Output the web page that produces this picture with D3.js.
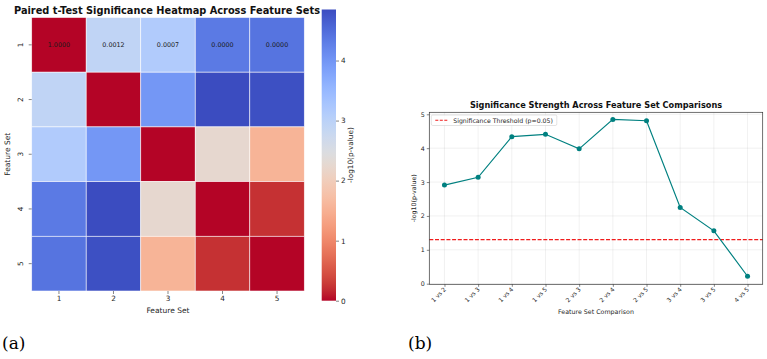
<!DOCTYPE html>
<html>
<head>
<meta charset="utf-8">
<script src="https://cdn.jsdelivr.net/npm/d3@7"></script>
<style>
  html, body { margin: 0; padding: 0; background: #ffffff; }
  svg { display: block; }
  text { font-family: "DejaVu Sans", sans-serif; fill: #262626; }
</style>
</head>
<body>
<svg id="chart" width="767" height="359"></svg>
<script>
// ---------------- DATA ----------------
const featureSets = ["1", "2", "3", "4", "5"];
const comparisons = ["1 vs 2", "1 vs 3", "1 vs 4", "1 vs 5", "2 vs 3", "2 vs 4", "2 vs 5", "3 vs 4", "3 vs 5", "4 vs 5"];
const negLogP = [2.91, 3.14, 4.34, 4.41, 3.98, 4.85, 4.81, 2.25, 1.56, 0.22];
const pThreshold = 0.05;
const annotatedRows = ["1"];
const colorbarTicks = [0, 1, 2, 3, 4];
const lineYTicks = [0, 1, 2, 3, 4, 5];

// coolwarm colormap stops (matplotlib), used reversed
const coolwarmStops = [
  [59,76,192],[68,90,204],[77,104,215],[87,117,225],[98,130,234],[108,142,241],[119,154,247],[130,165,251],
  [141,176,254],[152,185,255],[163,194,255],[174,201,253],[184,208,249],[194,213,244],[204,217,238],[213,219,230],
  [221,221,221],[229,216,209],[236,211,197],[241,204,184],[245,196,173],[247,187,160],[247,177,148],[247,166,135],
  [244,154,123],[241,141,111],[236,127,99],[229,112,88],[222,96,77],[213,80,66],[203,62,56],[192,40,47],[180,4,38]
].map(c => d3.rgb(c[0], c[1], c[2]).formatHex());
const coolwarm = d3.interpolateRgbBasis(coolwarmStops);

// Build symmetric matrix from pair comparisons
const cells = [];
featureSets.forEach((r, i) => {
  featureSets.forEach((c, j) => {
    let v = 0;
    if (i !== j) {
      const a = Math.min(i, j), b = Math.max(i, j);
      const label = featureSets[a] + " vs " + featureSets[b];
      v = negLogP[comparisons.indexOf(label)];
    }
    cells.push({ row: r, col: c, value: v, p: Math.pow(10, -v) });
  });
});

const svg = d3.select("#chart");

// ---------------- (a) HEATMAP ----------------
const hm = { left: 31.7, right: 304.3, top: 17.5, bottom: 291 };
const vmax = d3.max(negLogP);
const colorFor = v => coolwarm(1 - v / vmax);

const hx = d3.scaleBand().domain(featureSets).range([hm.left, hm.right]);
const hy = d3.scaleBand().domain(featureSets).range([hm.top, hm.bottom]);

const gHm = svg.append("g");
gHm.selectAll("rect.cell").data(cells).enter().append("rect")
  .attr("class", "cell")
  .attr("x", d => hx(d.col))
  .attr("y", d => hy(d.row))
  .attr("width", hx.bandwidth())
  .attr("height", hy.bandwidth())
  .attr("fill", d => colorFor(d.value))
  .attr("stroke", "#ffffff")
  .attr("stroke-opacity", 0.8)
  .attr("stroke-width", 0.7);

gHm.selectAll("text.annot").data(cells.filter(d => annotatedRows.includes(d.row))).enter().append("text")
  .attr("class", "annot")
  .attr("x", d => hx(d.col) + hx.bandwidth() / 2)
  .attr("y", d => hy(d.row) + hy.bandwidth() / 2)
  .attr("text-anchor", "middle")
  .attr("dominant-baseline", "central")
  .style("font-size", "6.4px")
  .style("fill", "#1a1a1a")
  .text(d => d.p.toFixed(4));

// x axis
const hxAxis = gHm.append("g").attr("transform", `translate(0,${hm.bottom})`)
  .call(d3.axisBottom(hx).tickSize(3).tickPadding(2));
hxAxis.select(".domain").remove();
hxAxis.selectAll("line").attr("stroke", "#333").attr("stroke-width", 0.6);
hxAxis.selectAll("text").style("font-size", "7.3px").style("fill", "#262626");

// y axis (rotated labels)
const hyAxis = gHm.append("g").attr("transform", `translate(${hm.left},0)`)
  .call(d3.axisLeft(hy).tickSize(3).tickPadding(2));
hyAxis.select(".domain").remove();
hyAxis.selectAll("line").attr("stroke", "#333").attr("stroke-width", 0.6);
hyAxis.selectAll("text").style("font-size", "7.3px").style("fill", "#262626")
  .attr("x", 0).attr("dy", 0).attr("text-anchor", "middle")
  .attr("transform", "translate(-9,0) rotate(-90)");

gHm.append("text")
  .attr("x", (hm.left + hm.right) / 2).attr("y", 313)
  .attr("text-anchor", "middle").style("font-size", "7.5px")
  .text("Feature Set");
gHm.append("text")
  .attr("transform", `translate(10,${(hm.top + hm.bottom) / 2}) rotate(-90)`)
  .attr("text-anchor", "middle").style("font-size", "7.5px")
  .text("Feature Set");

gHm.append("text")
  .attr("x", 167).attr("y", 13.5)
  .attr("text-anchor", "middle")
  .style("font-size", "9.8px").style("font-weight", "bold").style("fill", "#111")
  .text("Paired t-Test Significance Heatmap Across Feature Sets");

// colorbar
const cb = { left: 321.7, width: 14.3, top: 9.5, bottom: 300.7 };
const cy = d3.scaleLinear().domain([0, vmax]).range([cb.bottom, cb.top]);
const defs = svg.append("defs");
const grad = defs.append("linearGradient").attr("id", "cbgrad")
  .attr("x1", 0).attr("y1", 1).attr("x2", 0).attr("y2", 0);
d3.range(0, 1.0001, 0.02).forEach(t => {
  grad.append("stop").attr("offset", t).attr("stop-color", colorFor(t * vmax));
});
svg.append("rect").attr("x", cb.left).attr("y", cb.top)
  .attr("width", cb.width).attr("height", cb.bottom - cb.top)
  .attr("fill", "url(#cbgrad)");
const cbAxis = svg.append("g").attr("transform", `translate(${cb.left + cb.width},0)`)
  .call(d3.axisRight(cy).tickValues(colorbarTicks).tickFormat(d3.format("d")).tickSize(3).tickPadding(2));
cbAxis.select(".domain").remove();
cbAxis.selectAll("line").attr("stroke", "#333").attr("stroke-width", 0.6);
cbAxis.selectAll("text").style("font-size", "7.3px").style("fill", "#262626");
svg.append("text")
  .attr("transform", `translate(353,${(cb.top + cb.bottom) / 2}) rotate(-90)`)
  .attr("text-anchor", "middle").style("font-size", "7.3px")
  .text("-log10(p-value)");

// ---------------- (b) LINE CHART ----------------
const lc = { left: 429.3, right: 762.7, top: 112.3, bottom: 284.3 };
const lx = d3.scaleLinear().domain([-0.45, comparisons.length - 1 + 0.45]).range([lc.left, lc.right]);
const ly = d3.scaleLinear().domain([-0.018, 5.059]).range([lc.bottom, lc.top]);
const gL = svg.append("g");

// grid
gL.selectAll("line.vgrid").data(comparisons).enter().append("line")
  .attr("x1", (d, i) => lx(i)).attr("x2", (d, i) => lx(i))
  .attr("y1", lc.top).attr("y2", lc.bottom)
  .attr("stroke", "#b0b0b0").attr("stroke-opacity", 0.3).attr("stroke-width", 0.6);
gL.selectAll("line.hgrid").data(lineYTicks).enter().append("line")
  .attr("x1", lc.left).attr("x2", lc.right)
  .attr("y1", d => ly(d)).attr("y2", d => ly(d))
  .attr("stroke", "#b0b0b0").attr("stroke-opacity", 0.3).attr("stroke-width", 0.6);

// threshold
const thr = -Math.log10(pThreshold);
gL.append("line")
  .attr("x1", lc.left).attr("x2", lc.right)
  .attr("y1", ly(thr)).attr("y2", ly(thr))
  .attr("stroke", "#f01c1c").attr("stroke-width", 1.1)
  .attr("stroke-dasharray", "4,1.7");

// line
const pts = negLogP.map((v, i) => ({ i, v }));
gL.append("path").datum(pts)
  .attr("d", d3.line().x(d => lx(d.i)).y(d => ly(d.v)))
  .attr("fill", "none").attr("stroke", "#008080").attr("stroke-width", 1.2);
gL.selectAll("circle.pt").data(pts).enter().append("circle")
  .attr("cx", d => lx(d.i)).attr("cy", d => ly(d.v)).attr("r", 2.5)
  .attr("fill", "#008080");

// frame
gL.append("rect").attr("x", lc.left).attr("y", lc.top)
  .attr("width", lc.right - lc.left).attr("height", lc.bottom - lc.top)
  .attr("fill", "none").attr("stroke", "#333").attr("stroke-width", 0.7);

// axes
const lxAxis = gL.append("g").attr("transform", `translate(0,${lc.bottom})`)
  .call(d3.axisBottom(lx).tickValues(d3.range(comparisons.length)).tickFormat(i => comparisons[i]).tickSize(2.5).tickPadding(2));
lxAxis.select(".domain").remove();
lxAxis.selectAll("line").attr("stroke", "#333").attr("stroke-width", 0.6);
lxAxis.selectAll("text").style("font-size", "6px").style("fill", "#262626")
  .attr("text-anchor", "end").attr("dy", 0).attr("y", 0)
  .attr("transform", "translate(1.5,5.5) rotate(-45)");

const lyAxis = gL.append("g").attr("transform", `translate(${lc.left},0)`)
  .call(d3.axisLeft(ly).tickValues(lineYTicks).tickFormat(d3.format("d")).tickSize(2.5).tickPadding(2));
lyAxis.select(".domain").remove();
lyAxis.selectAll("line").attr("stroke", "#333").attr("stroke-width", 0.6);
lyAxis.selectAll("text").style("font-size", "6.3px").style("fill", "#262626");

gL.append("text")
  .attr("x", (lc.left + lc.right) / 2).attr("y", 314)
  .attr("text-anchor", "middle").style("font-size", "6.3px")
  .text("Feature Set Comparison");
gL.append("text")
  .attr("transform", `translate(416,${(lc.top + lc.bottom) / 2}) rotate(-90)`)
  .attr("text-anchor", "middle").style("font-size", "6.3px")
  .text("-log10(p-value)");
gL.append("text")
  .attr("x", (lc.left + lc.right) / 2).attr("y", 107.5)
  .attr("text-anchor", "middle")
  .style("font-size", "8.2px").style("font-weight", "bold").style("fill", "#111")
  .text("Significance Strength Across Feature Set Comparisons");

// legend
const lg = gL.append("g").attr("transform", `translate(${lc.left + 2},${lc.top + 2.7})`);
lg.append("rect").attr("x", 0).attr("y", 0).attr("width", 125.5).attr("height", 10.5)
  .attr("rx", 1.5).attr("fill", "#ffffff").attr("fill-opacity", 0.85)
  .attr("stroke", "#d0d0d0").attr("stroke-width", 0.6);
lg.append("line").attr("x1", 4).attr("x2", 17).attr("y1", 5.25).attr("y2", 5.25)
  .attr("stroke", "#f01c1c").attr("stroke-width", 1.1).attr("stroke-dasharray", "3,1.5");
lg.append("text").attr("x", 22).attr("y", 5.4).attr("dominant-baseline", "central")
  .style("font-size", "6.2px").text(`Significance Threshold (p=${pThreshold})`);

// panel labels
svg.append("text").attr("x", 2).attr("y", 349)
  .style("font-family", "'DejaVu Serif', 'Liberation Serif', serif").style("font-size", "17px").style("fill", "#000")
  .text("(a)");
svg.append("text").attr("x", 408).attr("y", 349)
  .style("font-family", "'DejaVu Serif', 'Liberation Serif', serif").style("font-size", "17px").style("fill", "#000")
  .text("(b)");
</script>
</body>
</html>
